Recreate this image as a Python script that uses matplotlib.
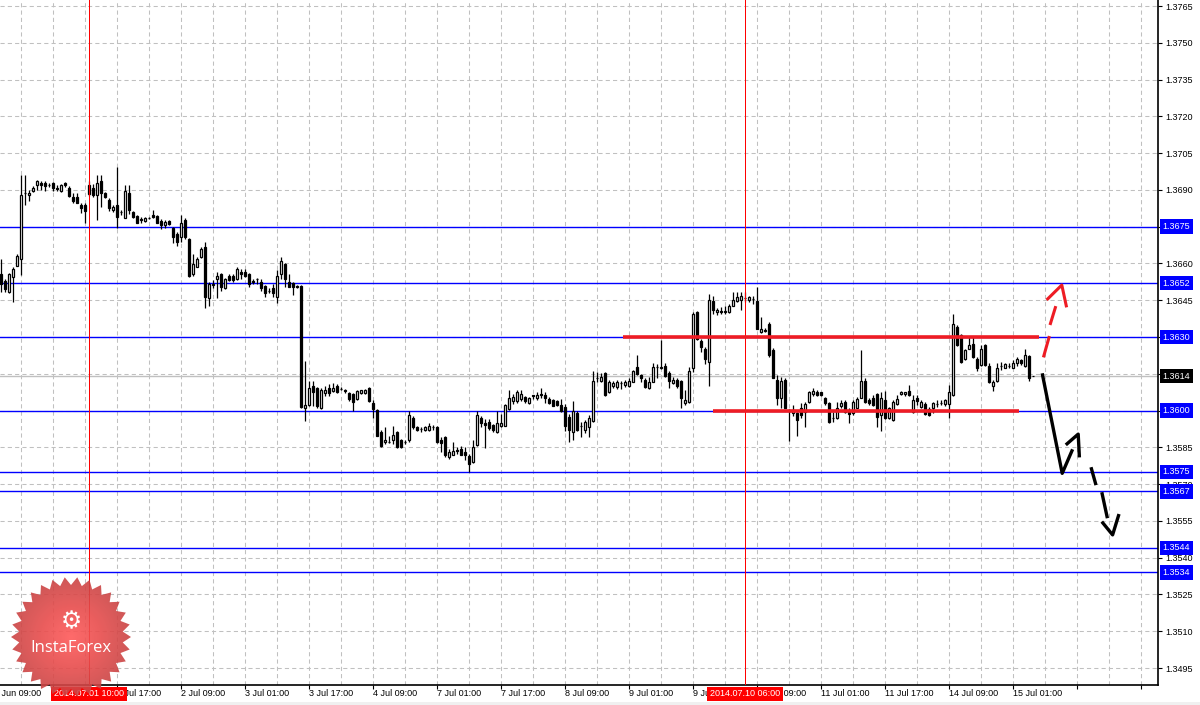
import numpy as np
import matplotlib
matplotlib.use("Agg")
import matplotlib.pyplot as plt
from matplotlib.ticker import FixedLocator, FormatStrFormatter, MultipleLocator
from matplotlib.patches import Polygon, Rectangle
from matplotlib.colors import LinearSegmentedColormap

plt.rcParams['font.family'] = ['Liberation Sans', 'DejaVu Sans']

# EURUSD H1, 30 Jun 12:00 .. 15 Jul 05:00 (bar 0 = 30 Jun 09:00)
first_bar = 3
opens = [
    1.36556, 1.36529, 1.36485, 1.36546, 1.36590, 1.36617, 1.36886, 1.36878, 1.36897, 1.36918,
    1.36930, 1.36927, 1.36920, 1.36927, 1.36906, 1.36897, 1.36927, 1.36908, 1.36873, 1.36870,
    1.36839, 1.36839, 1.36884, 1.36908, 1.36878, 1.36938, 1.36886, 1.36859, 1.36816, 1.36839,
    1.36810, 1.36787, 1.36886, 1.36809, 1.36795, 1.36780, 1.36774, 1.36786, 1.36798, 1.36795,
    1.36775, 1.36756, 1.36775, 1.36746, 1.36720, 1.36707, 1.36778, 1.36701, 1.36556, 1.36587,
    1.36628, 1.36666, 1.36458, 1.36514, 1.36536, 1.36556, 1.36500, 1.36550, 1.36550, 1.36536,
    1.36567, 1.36567, 1.36556, 1.36527, 1.36537, 1.36526, 1.36510, 1.36489, 1.36500, 1.36465,
    1.36556, 1.36597, 1.36526, 1.36519, 1.36507, 1.36508, 1.36010, 1.36023, 1.36099, 1.36091,
    1.36011, 1.36071, 1.36091, 1.36079, 1.36099, 1.36088, 1.36082, 1.36071, 1.36068, 1.36048,
    1.36071, 1.36071, 1.36091, 1.36031, 1.36003, 1.35912, 1.35871, 1.35872, 1.35878, 1.35912,
    1.35881, 1.35872, 1.35878, 1.35969, 1.35932, 1.35926, 1.35921, 1.35919, 1.35933, 1.35935,
    1.35881, 1.35892, 1.35810, 1.35820, 1.35838, 1.35844, 1.35833, 1.35813, 1.35790, 1.35858,
    1.35969, 1.35951, 1.35955, 1.35942, 1.35912, 1.35936, 1.35939, 1.36007, 1.36041, 1.36041,
    1.36048, 1.36054, 1.36031, 1.36062, 1.36050, 1.36066, 1.36064, 1.36048, 1.36044, 1.36041,
    1.36023, 1.36014, 1.35973, 1.35912, 1.35989, 1.35937, 1.35922, 1.35932, 1.35959, 1.36133,
    1.36122, 1.36153, 1.36074, 1.36101, 1.36097, 1.36112, 1.36104, 1.36101, 1.36118, 1.36176,
    1.36145, 1.36124, 1.36093, 1.36118, 1.36178, 1.36172, 1.36182, 1.36155, 1.36111, 1.36124,
    1.36122, 1.36030, 1.36034, 1.36174, 1.36404, 1.36282, 1.36253, 1.36199, 1.36445, 1.36401,
    1.36405, 1.36405, 1.36401, 1.36428, 1.36445, 1.36449, 1.36458, 1.36449, 1.36456, 1.36445,
    1.36320, 1.36327, 1.36354, 1.36246, 1.36124, 1.36053, 1.36124, 1.36004, 1.35990, 1.35990,
    1.36010, 1.35993, 1.36034, 1.36066, 1.36077, 1.36074, 1.36053, 1.36030, 1.35969, 1.35969,
    1.36020, 1.36034, 1.35999, 1.35989, 1.36012, 1.36053, 1.36120, 1.36043, 1.36050, 1.36066,
    1.35982, 1.36043, 1.35969, 1.35962, 1.36026, 1.36066, 1.36066, 1.36080, 1.35993, 1.36053,
    1.36016, 1.36026, 1.36007, 1.36010, 1.36026, 1.36030, 1.36026, 1.36026, 1.36064, 1.36341,
    1.36307, 1.36209, 1.36253, 1.36273, 1.36212, 1.36185, 1.36266, 1.36182, 1.36101, 1.36120,
    1.36183, 1.36174, 1.36183, 1.36174, 1.36192, 1.36205, 1.36182, 1.36223, 1.36142,
]
highs = [
    1.36617, 1.36536, 1.36560, 1.36584, 1.36638, 1.36961, 1.36961, 1.36900, 1.36914, 1.36940,
    1.36935, 1.36938, 1.36927, 1.36934, 1.36920, 1.36925, 1.36931, 1.36914, 1.36886, 1.36886,
    1.36848, 1.36846, 1.36935, 1.36924, 1.36961, 1.36961, 1.36890, 1.36866, 1.36839, 1.36992,
    1.36818, 1.36920, 1.36920, 1.36812, 1.36798, 1.36788, 1.36791, 1.36791, 1.36816, 1.36798,
    1.36780, 1.36778, 1.36778, 1.36750, 1.36730, 1.36798, 1.36784, 1.36705, 1.36638, 1.36625,
    1.36666, 1.36686, 1.36526, 1.36533, 1.36567, 1.36560, 1.36540, 1.36555, 1.36556, 1.36587,
    1.36578, 1.36578, 1.36560, 1.36536, 1.36540, 1.36536, 1.36512, 1.36500, 1.36516, 1.36574,
    1.36628, 1.36601, 1.36556, 1.36526, 1.36512, 1.36512, 1.36204, 1.36122, 1.36122, 1.36095,
    1.36091, 1.36099, 1.36109, 1.36113, 1.36109, 1.36095, 1.36088, 1.36075, 1.36071, 1.36084,
    1.36084, 1.36088, 1.36095, 1.36044, 1.36007, 1.35919, 1.35932, 1.35898, 1.35939, 1.35915,
    1.35885, 1.35878, 1.36000, 1.35977, 1.35939, 1.35932, 1.35936, 1.35949, 1.35942, 1.35939,
    1.35892, 1.35895, 1.35844, 1.35871, 1.35851, 1.35855, 1.35851, 1.35824, 1.35878, 1.36000,
    1.35977, 1.35966, 1.35966, 1.35946, 1.36000, 1.35986, 1.36027, 1.36082, 1.36068, 1.36082,
    1.36082, 1.36061, 1.36054, 1.36064, 1.36075, 1.36091, 1.36075, 1.36054, 1.36048, 1.36044,
    1.36048, 1.36027, 1.35986, 1.36041, 1.36000, 1.35953, 1.35960, 1.35980, 1.36163, 1.36156,
    1.36153, 1.36159, 1.36124, 1.36120, 1.36124, 1.36120, 1.36124, 1.36131, 1.36165, 1.36226,
    1.36151, 1.36131, 1.36138, 1.36192, 1.36188, 1.36287, 1.36192, 1.36161, 1.36138, 1.36134,
    1.36124, 1.36084, 1.36178, 1.36401, 1.36408, 1.36293, 1.36259, 1.36476, 1.36469, 1.36418,
    1.36422, 1.36426, 1.36435, 1.36482, 1.36485, 1.36482, 1.36482, 1.36469, 1.36466, 1.36503,
    1.36381, 1.36335, 1.36363, 1.36255, 1.36145, 1.36138, 1.36131, 1.36007, 1.36023, 1.35996,
    1.36030, 1.36034, 1.36080, 1.36093, 1.36084, 1.36077, 1.36057, 1.36034, 1.35996, 1.36034,
    1.36043, 1.36043, 1.36010, 1.36043, 1.36057, 1.36246, 1.36131, 1.36050, 1.36064, 1.36070,
    1.36074, 1.36080, 1.36016, 1.36043, 1.36064, 1.36080, 1.36077, 1.36104, 1.36064, 1.36064,
    1.36043, 1.36034, 1.36016, 1.36037, 1.36043, 1.36043, 1.36047, 1.36104, 1.36395, 1.36347,
    1.36314, 1.36253, 1.36304, 1.36304, 1.36219, 1.36266, 1.36273, 1.36192, 1.36124, 1.36192,
    1.36199, 1.36192, 1.36196, 1.36205, 1.36219, 1.36212, 1.36253, 1.36228, 1.36142,
]
lows = [
    1.36485, 1.36485, 1.36480, 1.36444, 1.36588, 1.36553, 1.36839, 1.36856, 1.36893, 1.36900,
    1.36900, 1.36897, 1.36910, 1.36897, 1.36897, 1.36893, 1.36913, 1.36873, 1.36848, 1.36846,
    1.36805, 1.36767, 1.36876, 1.36870, 1.36778, 1.36832, 1.36865, 1.36812, 1.36809, 1.36746,
    1.36798, 1.36784, 1.36801, 1.36784, 1.36763, 1.36767, 1.36771, 1.36782, 1.36786, 1.36763,
    1.36740, 1.36744, 1.36757, 1.36682, 1.36673, 1.36686, 1.36701, 1.36545, 1.36547, 1.36584,
    1.36621, 1.36417, 1.36427, 1.36500, 1.36458, 1.36488, 1.36497, 1.36530, 1.36526, 1.36533,
    1.36536, 1.36544, 1.36506, 1.36515, 1.36516, 1.36488, 1.36465, 1.36479, 1.36465, 1.36438,
    1.36536, 1.36506, 1.36503, 1.36472, 1.36500, 1.36010, 1.35959, 1.36018, 1.36018, 1.36011,
    1.36007, 1.36061, 1.36061, 1.36075, 1.36072, 1.36082, 1.36071, 1.36041, 1.36000, 1.36044,
    1.36068, 1.36068, 1.36037, 1.35969, 1.35896, 1.35851, 1.35864, 1.35867, 1.35864, 1.35848,
    1.35848, 1.35864, 1.35871, 1.35925, 1.35915, 1.35912, 1.35918, 1.35915, 1.35919, 1.35868,
    1.35830, 1.35810, 1.35803, 1.35817, 1.35823, 1.35817, 1.35797, 1.35749, 1.35787, 1.35855,
    1.35932, 1.35848, 1.35919, 1.35912, 1.35909, 1.35932, 1.35936, 1.36004, 1.36027, 1.36031,
    1.36041, 1.36031, 1.36027, 1.36048, 1.36045, 1.36050, 1.36031, 1.36027, 1.36018, 1.36020,
    1.35996, 1.35915, 1.35871, 1.35878, 1.35915, 1.35892, 1.35910, 1.35892, 1.35955, 1.36116,
    1.36115, 1.36061, 1.36070, 1.36093, 1.36090, 1.36090, 1.36097, 1.36097, 1.36115, 1.36145,
    1.36118, 1.36093, 1.36090, 1.36115, 1.36131, 1.36171, 1.36138, 1.36093, 1.36107, 1.36093,
    1.36012, 1.36023, 1.36030, 1.36158, 1.36286, 1.36239, 1.36188, 1.36101, 1.36395, 1.36390,
    1.36395, 1.36395, 1.36399, 1.36426, 1.36442, 1.36412, 1.36442, 1.36442, 1.36435, 1.36331,
    1.36318, 1.36320, 1.36219, 1.36131, 1.36023, 1.36012, 1.36009, 1.35877, 1.35976, 1.35895,
    1.35969, 1.35935, 1.36030, 1.36061, 1.36061, 1.36061, 1.36023, 1.35949, 1.35955, 1.35966,
    1.36009, 1.35989, 1.35949, 1.35982, 1.36009, 1.36050, 1.36030, 1.36023, 1.36020, 1.35935,
    1.35915, 1.35966, 1.35966, 1.35958, 1.36023, 1.36064, 1.36061, 1.36061, 1.35989, 1.36023,
    1.36012, 1.35982, 1.35976, 1.35989, 1.36016, 1.36023, 1.36020, 1.35969, 1.36061, 1.36264,
    1.36192, 1.36205, 1.36250, 1.36215, 1.36161, 1.36182, 1.36182, 1.36111, 1.36080, 1.36118,
    1.36165, 1.36172, 1.36172, 1.36172, 1.36182, 1.36185, 1.36178, 1.36120, 1.36142,
]
closes = [
    1.36516, 1.36497, 1.36556, 1.36578, 1.36631, 1.36880, 1.36889, 1.36889, 1.36907, 1.36938,
    1.36918, 1.36916, 1.36918, 1.36907, 1.36903, 1.36920, 1.36919, 1.36877, 1.36856, 1.36848,
    1.36828, 1.36814, 1.36918, 1.36880, 1.36927, 1.36886, 1.36870, 1.36828, 1.36831, 1.36788,
    1.36808, 1.36897, 1.36816, 1.36788, 1.36767, 1.36778, 1.36787, 1.36787, 1.36788, 1.36767,
    1.36757, 1.36771, 1.36760, 1.36707, 1.36686, 1.36767, 1.36707, 1.36547, 1.36597, 1.36618,
    1.36658, 1.36465, 1.36516, 1.36516, 1.36550, 1.36506, 1.36536, 1.36533, 1.36533, 1.36578,
    1.36556, 1.36547, 1.36516, 1.36525, 1.36535, 1.36500, 1.36479, 1.36487, 1.36479, 1.36547,
    1.36610, 1.36537, 1.36506, 1.36506, 1.36505, 1.36015, 1.36023, 1.36091, 1.36077, 1.36020,
    1.36082, 1.36082, 1.36071, 1.36091, 1.36075, 1.36086, 1.36080, 1.36048, 1.36037, 1.36079,
    1.36082, 1.36082, 1.36041, 1.36007, 1.35898, 1.35855, 1.35881, 1.35871, 1.35901, 1.35851,
    1.35851, 1.35870, 1.35980, 1.35932, 1.35919, 1.35925, 1.35932, 1.35939, 1.35932, 1.35871,
    1.35868, 1.35820, 1.35830, 1.35837, 1.35837, 1.35820, 1.35820, 1.35783, 1.35851, 1.35980,
    1.35950, 1.35941, 1.35928, 1.35921, 1.35949, 1.35949, 1.36023, 1.36050, 1.36054, 1.36075,
    1.36068, 1.36041, 1.36052, 1.36061, 1.36064, 1.36065, 1.36050, 1.36031, 1.36020, 1.36024,
    1.36000, 1.35939, 1.35919, 1.36000, 1.35919, 1.35936, 1.35953, 1.35969, 1.36122, 1.36132,
    1.36136, 1.36064, 1.36118, 1.36114, 1.36118, 1.36111, 1.36118, 1.36122, 1.36161, 1.36151,
    1.36131, 1.36097, 1.36115, 1.36178, 1.36177, 1.36178, 1.36142, 1.36120, 1.36124, 1.36101,
    1.36050, 1.36043, 1.36161, 1.36395, 1.36293, 1.36259, 1.36209, 1.36449, 1.36412, 1.36412,
    1.36404, 1.36403, 1.36426, 1.36453, 1.36462, 1.36469, 1.36459, 1.36462, 1.36455, 1.36334,
    1.36334, 1.36326, 1.36228, 1.36134, 1.36050, 1.36120, 1.36012, 1.35999, 1.36003, 1.35962,
    1.35982, 1.36026, 1.36074, 1.36080, 1.36064, 1.36064, 1.36030, 1.35953, 1.35968, 1.36012,
    1.36030, 1.35993, 1.35985, 1.36034, 1.36047, 1.36120, 1.36034, 1.36030, 1.36023, 1.35972,
    1.36053, 1.35969, 1.36010, 1.36034, 1.36047, 1.36074, 1.36074, 1.36064, 1.36043, 1.36040,
    1.36037, 1.35985, 1.35982, 1.36030, 1.36025, 1.36029, 1.36043, 1.36074, 1.36354, 1.36266,
    1.36199, 1.36246, 1.36266, 1.36219, 1.36174, 1.36253, 1.36185, 1.36115, 1.36115, 1.36174,
    1.36182, 1.36188, 1.36182, 1.36192, 1.36212, 1.36192, 1.36228, 1.36134, 1.36142,
]

time_labels = ["30 Jun 09:00", "1 Jul 01:00", "1 Jul 17:00", "2 Jul 09:00", "3 Jul 01:00",
               "3 Jul 17:00", "4 Jul 09:00", "7 Jul 01:00", "7 Jul 17:00", "8 Jul 09:00",
               "9 Jul 01:00", "9 Jul 17:00", "10 Jul 09:00", "11 Jul 01:00", "11 Jul 17:00",
               "14 Jul 09:00", "15 Jul 01:00"]
label_step = 16
y_ticks = [1.3495, 1.3510, 1.3525, 1.3540, 1.3555, 1.3570, 1.3585, 1.3600, 1.3615, 1.3630,
           1.3645, 1.3660, 1.3675, 1.3690, 1.3705, 1.3720, 1.3735, 1.3750, 1.3765]

levels = [1.3675, 1.3652, 1.3630, 1.3600, 1.3575, 1.3567, 1.3544, 1.3534]
bid_price = 1.3614
crosshair_bars = [25, 189]
crosshair_labels = ["2014.07.01 10:00", "2014.07.10 06:00"]

# drawn range lines (bar from, bar to, price)
resistance = (158.5, 262.5, 1.3630)
support = (181, 257.5, 1.3600)

# hand drawn arrows: polylines in (bar, price)
red_arrow_x = [[263.6, 265.1], [265.25, 266.7], [264.4, 268.2, 269.4]]
red_arrow_y = [[1.36217, 1.36304], [1.36349, 1.36426], [1.36451, 1.36512, 1.36421]]
black_arrow_x = [[263.3, 268.3, 270.9], [269.2, 272.3, 272.6],
                 [275.5, 276.75], [278.2, 279.6], [278.2, 280.9, 282.5]]
black_arrow_y = [[1.36152, 1.35744, 1.35842], [1.3586, 1.35904, 1.35809],
                 [1.35769, 1.35696], [1.35667, 1.35561], [1.35547, 1.35493, 1.35578]]

W, H = 1200, 705
fig = plt.figure(figsize=(W / 100, H / 100), dpi=100)
ax = fig.add_axes([0, 20.5 / H, 1158 / W, 684.5 / H])

bars = np.arange(first_bar, first_bar + len(opens))
o = np.array(opens)
c = np.array(closes)
up = c >= o

grid_kw = dict(color='#c0c0c0', linestyle=(0, (4, 3)), linewidth=0.75)
ax.set_xlim(2.75, 292.25)
ax.set_ylim(1.348828, 1.376745)
ax.xaxis.set_major_locator(MultipleLocator(label_step))
ax.xaxis.set_minor_locator(MultipleLocator(label_step // 2))
ax.yaxis.set_major_locator(FixedLocator(y_ticks))
ax.yaxis.set_major_formatter(FormatStrFormatter('%.4f'))
ax.grid(which='both', axis='x', **grid_kw)
ax.grid(which='major', axis='y', **grid_kw)
ax.set_axisbelow(True)

ax.yaxis.tick_right()
ax.tick_params(axis='y', which='major', direction='out', length=3, width=0.8, pad=2,
               labelsize=6.5, left=False, right=True)
ax.tick_params(axis='x', which='major', direction='out', length=3, width=0.8, labelbottom=False)
ax.tick_params(axis='x', which='minor', length=0)
for s in ['top', 'left']:
    ax.spines[s].set_visible(False)
for s in ['bottom', 'right']:
    ax.spines[s].set_linewidth(1.2)

for lv in levels:
    ax.axhline(lv, color='#0000ff', lw=1, zorder=1.5)
ax.axhline(bid_price, color='#c0c0c0', lw=1, zorder=1.5)

# candles
ax.vlines(bars, lows, highs, color='black', lw=0.9, zorder=3)
ax.bar(bars, np.abs(c - o), bottom=np.minimum(o, c), width=0.62,
       color=np.where(up, 'white', 'black'), edgecolor='black', linewidth=0.9, zorder=4)

for b in crosshair_bars:
    ax.axvline(b, color='#ff0000', lw=0.72, zorder=5)

for x0, x1, lv in [resistance, support]:
    ax.hlines(lv, x0, x1, color='#ee1c24', lw=2.6, zorder=6)

for xs, ys in zip(red_arrow_x, red_arrow_y):
    ax.plot(xs, ys, color='#ee1c24', lw=2.2, solid_capstyle='butt', zorder=6)
for xs, ys in zip(black_arrow_x, black_arrow_y):
    ax.plot(xs, ys, color='black', lw=2.4, solid_capstyle='butt', zorder=6)

# x labels (MT4 style: left aligned from the tick)
for i, lab in enumerate(time_labels):
    ax.annotate(lab, xy=(i * label_step, 0), xycoords=('data', 'axes fraction'),
                xytext=(0, -3.5), textcoords='offset points', ha='left', va='top',
                fontsize=6.5, annotation_clip=False)
for b, lab in zip(crosshair_bars, crosshair_labels):
    ax.annotate(lab, xy=(b, 0), xycoords=('data', 'axes fraction'),
                xytext=(0, -3.5), textcoords='offset points', ha='center', va='top',
                fontsize=6.5, color='white', annotation_clip=False, zorder=8,
                bbox=dict(boxstyle='square,pad=0.3', fc='#ff0000', ec='none'))

# price boxes on the right scale
for lv in levels:
    ax.annotate(f"{lv:.4f}", xy=(1, lv), xycoords=('axes fraction', 'data'),
                xytext=(3.4, 0), textcoords='offset points', ha='left', va='center',
                fontsize=6.5, color='white', annotation_clip=False, zorder=8,
                bbox=dict(boxstyle='square,pad=0.3', fc='#0000ff', ec='none'))
ax.annotate(f"{bid_price:.4f}", xy=(1, bid_price), xycoords=('axes fraction', 'data'),
            xytext=(3.4, 0), textcoords='offset points', ha='left', va='center',
            fontsize=6.5, color='white', annotation_clip=False, zorder=8,
            bbox=dict(boxstyle='square,pad=0.3', fc='black', ec='none'))

fig.add_artist(Rectangle((0, 0), 1, 3 / H, transform=fig.transFigure,
                         fc='#f0f0f0', ec='none'))

# InstaForex badge
lg = fig.add_axes([0, 0, 1, 1], zorder=5)
lg.patch.set_alpha(0)
lg.axis('off')
cx, cy, r_out, r_in, n = 71, 637, 60, 52, 30
ang = np.linspace(0, 2 * np.pi, 2 * n, endpoint=False)
rad = np.where(np.arange(2 * n) % 2 == 0, r_out, r_in)
star = Polygon(np.column_stack([cx + rad * np.cos(ang), cy + rad * np.sin(ang)]),
               closed=True, fc='none', ec='none')
lg.add_patch(star)
gy, gx = np.mgrid[-1:1:200j, -1:1:200j]
cmap = LinearSegmentedColormap.from_list('badge', ['#ff5a5a', '#e84c4c', '#c94444'])
im = lg.imshow(np.sqrt(gx ** 2 + gy ** 2), cmap=cmap, vmin=0, vmax=1, alpha=0.9,
               extent=(cx - r_out, cx + r_out, cy + r_out, cy - r_out), aspect='auto')
im.set_clip_path(star)
lg.set_xlim(0, W)
lg.set_ylim(H, 0)
lg.text(cx, cy - 16, "\u2699", color='white', fontsize=17, ha='center', va='center',
        family='DejaVu Sans')
lg.text(cx, cy + 11, "InstaForex", color='white', fontsize=12, ha='center', va='center',
        family='Open Sans')

fig.savefig('out.png', dpi=100)
